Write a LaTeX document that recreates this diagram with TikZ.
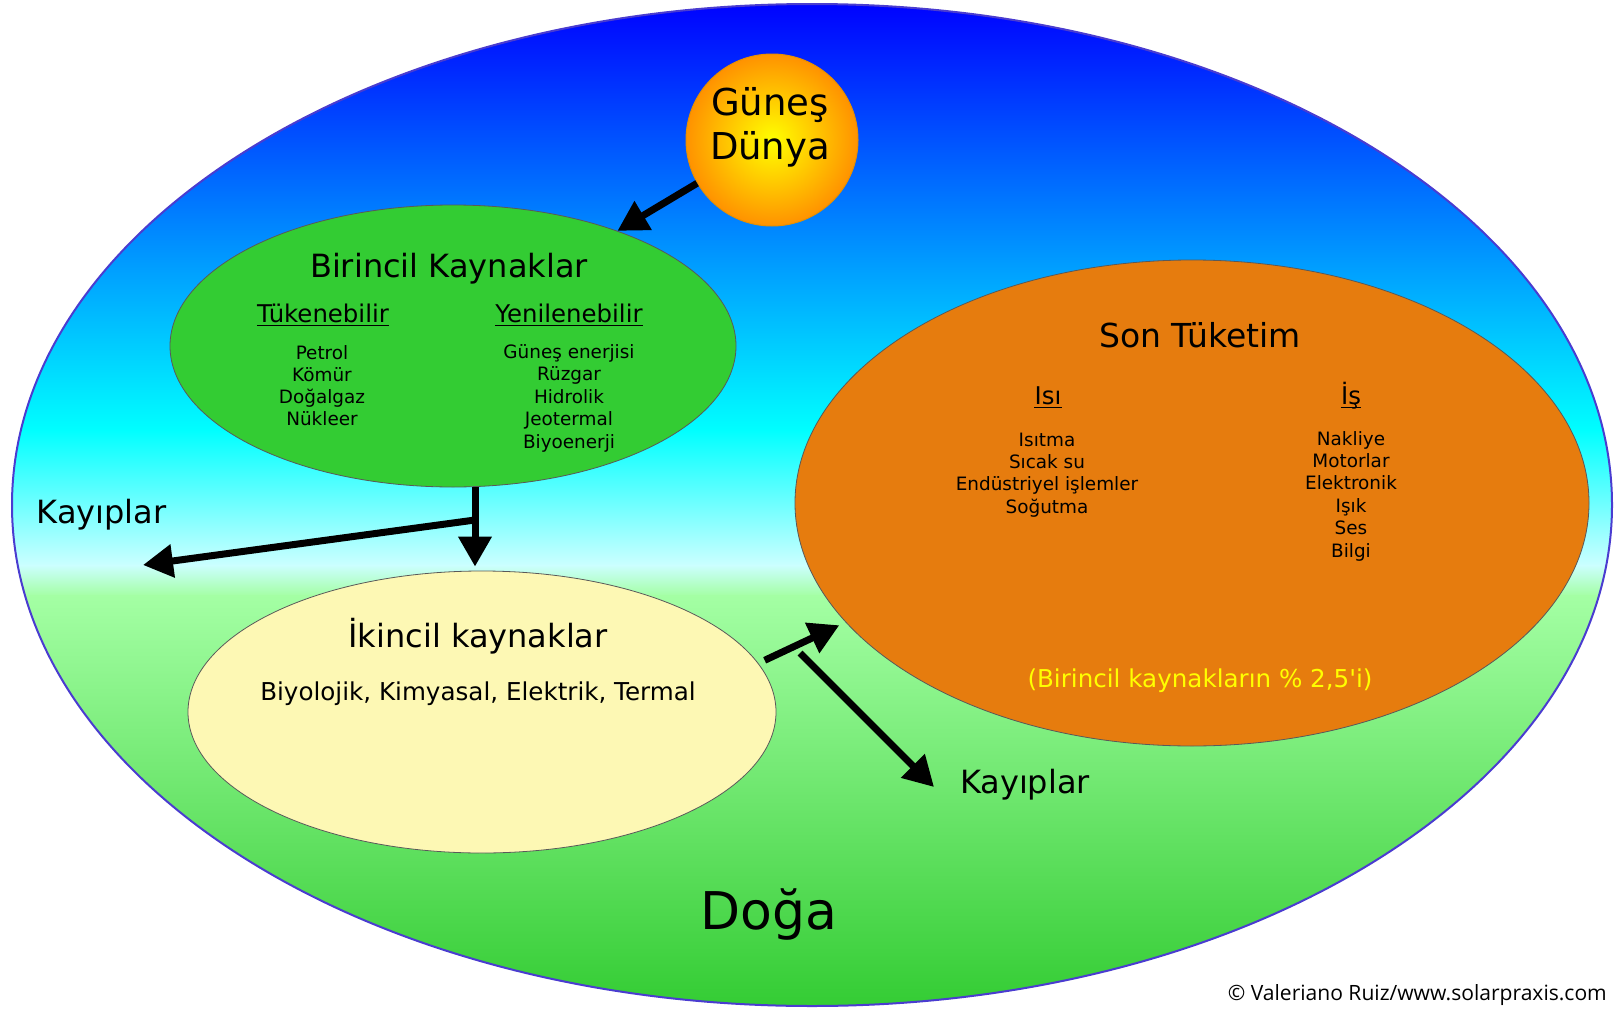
\documentclass[tikz,border=0pt]{standalone}
\usepackage{fontspec}
\usepackage{graphicx}
\setmainfont{DejaVu Sans}
\newfontfamily\copyfont{Open Sans}
\newfontfamily\rawfont[Ligatures=TeXOff]{DejaVu Sans}
\usetikzlibrary{shapes.geometric,arrows.meta}
\definecolor{skyA}{HTML}{0000FF}
\definecolor{skyB}{HTML}{00FFFF}
\definecolor{skyC}{HTML}{CCFFFF}
\definecolor{grassA}{HTML}{A4FFA4}
\definecolor{grassB}{HTML}{33CC33}
\definecolor{outline}{HTML}{4A3CD0}
\definecolor{primfill}{HTML}{33CC33}
\definecolor{secfill}{HTML}{FDF8B4}
\definecolor{finalfill}{HTML}{E67C0E}
\definecolor{sunA}{HTML}{FFFF00}
\definecolor{sunB}{HTML}{FF9200}
\definecolor{sunEdge}{HTML}{E89000}
\definecolor{noteyellow}{HTML}{FFFF00}
\tikzset{
  blob/.style={ellipse, inner sep=0pt, draw=black!65, line width=0.8pt},
  txt/.style={inner sep=0pt, anchor=base},
  huge/.style={txt, font=\fontsize{52}{60}\selectfont},
  title/.style={txt, font=\fontsize{32}{38}\selectfont},
  sub/.style={txt, font=\fontsize{24.4}{29}\selectfont},
  item/.style={txt, font=\fontsize{18.4}{22}\selectfont},
  mid/.style={txt, font=\fontsize{24.6}{29}\selectfont},
  arr/.style={line width=7pt, -{Triangle[length=30pt,width=32pt]}},
  uline/.style={line width=1.6pt}
}
\begin{document}
\begin{tikzpicture}[x=1pt,y=-1pt]
\useasboundingbox (0,0) rectangle (1618,1009);
% nature background
\begin{scope}
  \clip (812,505) ellipse [x radius=800pt, y radius=501pt];
  \shade[top color=skyA, bottom color=skyB] (0,0) rectangle (1618,431);
  \shade[top color=skyB, bottom color=skyC] (0,430) rectangle (1618,566);
  \shade[top color=skyC, bottom color=grassA] (0,565) rectangle (1618,596);
  \shade[top color=grassA, bottom color=grassB] (0,595) rectangle (1618,1009);
\end{scope}
\node[ellipse, inner sep=0pt, draw=outline, line width=2pt, minimum width=1600pt, minimum height=1002pt] (nature) at (812,505) {};

% sun
\node[circle, minimum size=172pt, inner sep=0pt, inner color=sunA, outer color=sunB, draw=sunEdge, line width=1pt] (sun) at (772,140) {};
\node[txt, font=\fontsize{37}{44}\selectfont] (sun1) at (770,115) {Güneş};
\node[txt, font=\fontsize{37}{44}\selectfont] (sun2) at (770,159) {Dünya};

% primary
\node[blob, fill=primfill, minimum width=566pt, minimum height=282pt] (prim) at (453,346) {};
\node[title] (primT) at (449,277) {Birincil Kaynaklar};
\node[sub] (tuk) at (323,322) {Tükenebilir};
\node[sub] (yen) at (569,322) {Yenilenebilir};
\draw[uline] ([yshift=-3.5pt]tuk.base west) -- ([yshift=-3.5pt]tuk.base east);
\draw[uline] ([yshift=-3.5pt]yen.base west) -- ([yshift=-3.5pt]yen.base east);
\foreach \t [count=\i from 0] in {Petrol,Kömür,Doğalgaz,Nükleer}
  \node[item] (pl\i) at (322,{359+22.3*\i}) {\t};
\foreach \t [count=\i from 0] in {Güneş enerjisi,Rüzgar,Hidrolik,Jeotermal,Biyoenerji}
  \node[item] (pr\i) at (569,{358+22.5*\i}) {\t};

% secondary
\node[blob, fill=secfill, minimum width=588pt, minimum height=282pt] (sec) at (482,712) {};
\node[title] (secT) at (478,647) {İkincil kaynaklar};
\node[mid] (secL) at (478,700) {Biyolojik, Kimyasal, Elektrik, Termal};

% final consumption
\node[blob, fill=finalfill, minimum width=794pt, minimum height=486pt] (final) at (1192,503) {};
\node[txt, font=\fontsize{33}{39}\selectfont] (finT) at (1200,347) {Son Tüketim};
\node[sub] (isi) at (1048,404) {Isı};
\node[sub] (is) at (1351,404) {İş};
\draw[uline] ([yshift=-3.5pt]isi.base west) -- ([yshift=-3.5pt]isi.base east);
\draw[uline] ([yshift=-3.5pt]is.base west) -- ([yshift=-3.5pt]is.base east);
\foreach \t [count=\i from 0] in {Isıtma,Sıcak su,Endüstriyel işlemler,Soğutma}
  \node[item] (fl\i) at (1047,{446+22.4*\i}) {\t};
\foreach \t [count=\i from 0] in {Nakliye,Motorlar,Elektronik,Işık,Ses,Bilgi}
  \node[item] (fr\i) at (1351,{445+22.4*\i}) {\t};
\node[mid, text=noteyellow] (note) at (1200,687) {(Birincil kaynakların \% 2,5{\rawfont '}i)};

% losses labels
\node[title] (kl) at (101.5,523) {Kayıplar};
\node[title] (kr) at (1025,793) {Kayıplar};
\node[huge] (doga) at (769,929) {Doğa};
\node[anchor=base east, inner sep=0pt] (copy) at (1607,1000)
  {\resizebox{379pt}{!}{\copyfont\fontsize{16}{19}\selectfont © Valeriano Ruiz/www.solarpraxis.com}};

% connectors
\coordinate (j) at (475,520);
\coordinate (klTip) at (143,565);
\coordinate (krStart) at (800,653);
\coordinate (krTip) at (934,787);
\draw[arr] (sun.210) -- (prim.35.5);
\draw[arr, shorten >=4pt] (prim.south -| j) -- (sec.north -| j);
\draw[arr] (j) -- (klTip);
\draw[arr, shorten <=7pt, shorten >=7pt] (sec.10.5) -- (final.199.8);
\draw[arr] (krStart) -- (krTip);
\end{tikzpicture}
\end{document}
